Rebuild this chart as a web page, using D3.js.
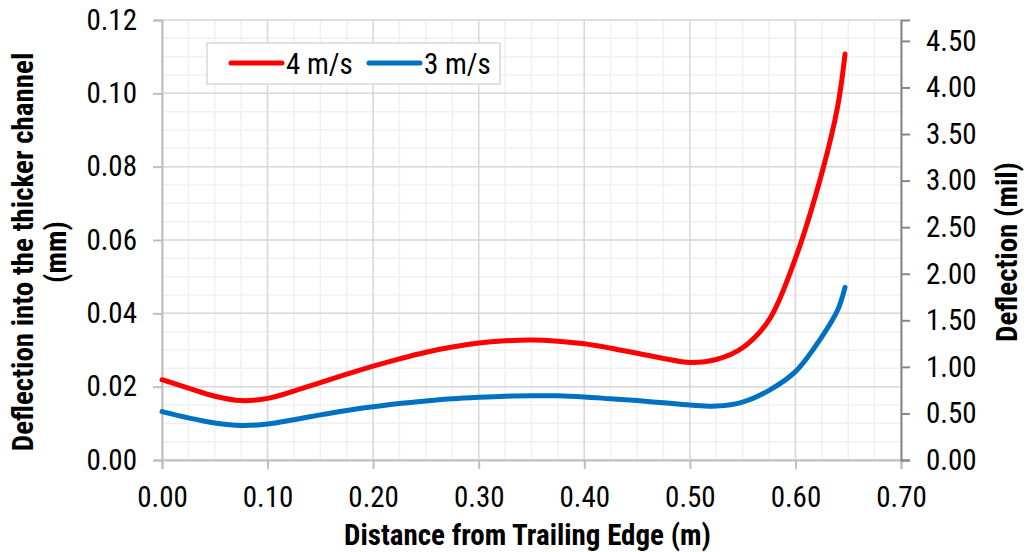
<!DOCTYPE html>
<html lang="en">
<head>
  <meta charset="UTF-8">
  <title>Deflection vs Distance from Trailing Edge</title>
  <script src="https://d3js.org/d3.v7.min.js"></script>
  <style>
    body {
      margin: 0;
      padding: 0;
      background: #fff;
    }
    svg text {
      font-family: "Liberation Sans Narrow", "Arial Narrow", "Roboto Condensed", sans-serif;
      fill: #000;
    }
    .tick-label { font-size: 29px; }
    .axis-title { font-size: 29px; font-weight: bold; }
    .legend-label { font-size: 29px; }
  </style>
</head>
<body>
  <div id="chart"></div>
  <script>
    // distance from trailing edge (m)
    const distance = [0, 0.025, 0.05, 0.075, 0.10, 0.125, 0.15, 0.175, 0.20, 0.225, 0.25, 0.275, 0.30,
      0.325, 0.35, 0.375, 0.40, 0.425, 0.45, 0.475, 0.50, 0.525, 0.55, 0.575, 0.60, 0.625, 0.64, 0.647];
    // deflection (mm)
    const speed4 = [0.0219, 0.0196, 0.0174, 0.0162, 0.0168, 0.0188, 0.0211, 0.0234, 0.0256, 0.0276, 0.0294,
      0.0308, 0.0319, 0.0325, 0.0327, 0.0324, 0.0317, 0.0305, 0.0291, 0.0277, 0.0266, 0.0274, 0.0306,
      0.0382, 0.0550, 0.0782, 0.0964, 0.1107];
    const speed3 = [0.0132, 0.0115, 0.0101, 0.0094, 0.0098, 0.0110, 0.0123, 0.0135, 0.0145, 0.0154, 0.0161,
      0.0167, 0.0171, 0.0174, 0.0175, 0.0175, 0.0172, 0.0167, 0.0162, 0.0156, 0.0150, 0.0147, 0.0158,
      0.0190, 0.0241, 0.0336, 0.0409, 0.0471];
    const seriesNames = ["4 m/s", "3 m/s"];
    const seriesColors = ["#ff0000", "#0070c0"];

    const xTicks = [0, 0.1, 0.2, 0.3, 0.4, 0.5, 0.6, 0.7];
    const yTicks = [0, 0.02, 0.04, 0.06, 0.08, 0.10, 0.12];
    const milTicks = [0, 0.5, 1, 1.5, 2, 2.5, 3, 3.5, 4, 4.5];
    const mmPerMil = 0.0254;

    const width = 1027, height = 552;
    const margin = { top: 20, right: 126, bottom: 92, left: 162 };
    const plotW = width - margin.left - margin.right;
    const plotH = height - margin.top - margin.bottom;

    const svg = d3.select("#chart")
      .append("svg")
      .attr("width", width)
      .attr("height", height);

    const g = svg.append("g")
      .attr("transform", `translate(${margin.left},${margin.top})`);

    const x = d3.scaleLinear().domain([0, 0.7]).range([0, plotW]);
    const y = d3.scaleLinear().domain([0, 0.12]).range([plotH, 0]);
    const yMil = d3.scaleLinear().domain([0, 0.12 / mmPerMil]).range([plotH, 0]);

    // minor grid
    const minorX = d3.range(0, 0.7001, 0.025);
    const minorY = d3.range(0, 0.12001, 0.005);
    g.append("g").selectAll("line")
      .data(minorX)
      .join("line")
      .attr("x1", d => x(d)).attr("x2", d => x(d))
      .attr("y1", 0).attr("y2", plotH)
      .attr("stroke", "#f0f0f0").attr("stroke-width", 1.5);
    g.append("g").selectAll("line")
      .data(minorY)
      .join("line")
      .attr("x1", 0).attr("x2", plotW)
      .attr("y1", d => y(d)).attr("y2", d => y(d))
      .attr("stroke", "#f0f0f0").attr("stroke-width", 1.5);

    // major grid
    g.append("g").selectAll("line")
      .data(xTicks)
      .join("line")
      .attr("x1", d => x(d)).attr("x2", d => x(d))
      .attr("y1", 0).attr("y2", plotH)
      .attr("stroke", "#d9d9d9").attr("stroke-width", 1.5);
    g.append("g").selectAll("line")
      .data(yTicks)
      .join("line")
      .attr("x1", 0).attr("x2", plotW)
      .attr("y1", d => y(d)).attr("y2", d => y(d))
      .attr("stroke", "#d9d9d9").attr("stroke-width", 1.5);

    // axes
    const xAxis = g.append("g")
      .attr("transform", `translate(0,${plotH})`)
      .call(d3.axisBottom(x).tickValues(xTicks).tickFormat(d3.format(".2f")).tickSizeOuter(0).tickSize(9).tickPadding(17));
    const yAxis = g.append("g")
      .call(d3.axisLeft(y).tickValues(yTicks).tickFormat(d3.format(".2f")).tickSizeOuter(0).tickSize(9).tickPadding(16));
    const yAxisR = g.append("g")
      .attr("transform", `translate(${plotW},0)`)
      .call(d3.axisRight(yMil).tickValues(milTicks).tickFormat(d3.format(".2f")).tickSizeOuter(0).tickSize(9).tickPadding(16));

    [xAxis, yAxis].forEach(a => {
      a.select(".domain").attr("stroke", "#bfbfbf").attr("stroke-width", 2);
      a.selectAll(".tick line").attr("stroke", "#bfbfbf").attr("stroke-width", 2);
    });
    yAxisR.select(".domain").attr("stroke", "#868686").attr("stroke-width", 2);
    yAxisR.selectAll(".tick line").attr("stroke", "#868686").attr("stroke-width", 2);
    svg.selectAll(".tick text").attr("class", "tick-label").attr("font-size", null).attr("font-family", null);
    g.selectAll("g").attr("font-size", null).attr("font-family", null);

    // series
    const line = d3.line()
      .x(d => x(d[0]))
      .y(d => y(d[1]))
      .curve(d3.curveCatmullRom.alpha(0.5));

    [speed4, speed3].forEach((vals, i) => {
      g.append("path")
        .datum(distance.map((d, j) => [d, vals[j]]))
        .attr("fill", "none")
        .attr("stroke", seriesColors[i])
        .attr("stroke-width", 5)
        .attr("stroke-linecap", "round")
        .attr("d", line);
    });

    // axis titles
    svg.append("text")
      .attr("class", "axis-title")
      .attr("x", margin.left + plotW / 2 - 4)
      .attr("y", 545)
      .attr("text-anchor", "middle")
      .text("Distance from Trailing Edge (m)");

    const leftTitle = svg.append("text")
      .attr("class", "axis-title")
      .attr("text-anchor", "middle")
      .attr("transform", "translate(33,252) rotate(-90)");
    leftTitle.append("tspan").attr("x", 0).attr("y", 0).text("Deflection into the thicker channel");
    leftTitle.append("tspan").attr("x", 0).attr("y", 33).text("(mm)");

    svg.append("text")
      .attr("class", "axis-title")
      .attr("text-anchor", "middle")
      .attr("transform", "translate(1017,252) rotate(-90)")
      .text("Deflection (mil)");

    // legend
    const legend = svg.append("g").attr("transform", "translate(207,43)");
    legend.append("rect")
      .attr("width", 293).attr("height", 41)
      .attr("fill", "#fff").attr("stroke", "#d9d9d9").attr("stroke-width", 1.5);
    const legendX = [24, 162];
    seriesNames.forEach((name, i) => {
      legend.append("line")
        .attr("x1", legendX[i]).attr("x2", legendX[i] + 51)
        .attr("y1", 20).attr("y2", 20)
        .attr("stroke", seriesColors[i]).attr("stroke-width", 5)
        .attr("stroke-linecap", "round");
      legend.append("text")
        .attr("class", "legend-label")
        .attr("x", legendX[i] + 55)
        .attr("y", 31)
        .text(name);
    });
  </script>
</body>
</html>
